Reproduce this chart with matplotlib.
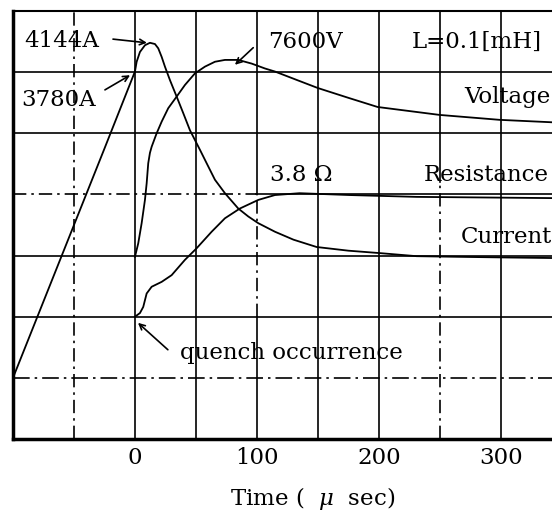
import matplotlib
matplotlib.use("Agg")
import matplotlib.pyplot as plt

# ---- data (time in microseconds, values in screen divisions) ----
current_t = [-100, -75, -50, -25, 0, 1.4, 4.1, 8.2, 12.3, 16.4, 19.1, 21.9, 24.6, 28.7, 34.2, 39.6,
             45.1, 49.2, 53.3, 58.8, 65.6, 73.8, 84.7, 92.9, 101.1, 114.8, 130, 149, 175, 201, 231, 264, 300, 342]
current_v = [1.0, 2.25, 3.5, 4.75, 6.01, 6.17, 6.33, 6.44, 6.48, 6.46, 6.39, 6.25, 6.09, 5.87, 5.60, 5.33,
             5.05, 4.89, 4.73, 4.51, 4.24, 4.02, 3.77, 3.64, 3.53, 3.39, 3.26, 3.14, 3.08, 3.04, 2.99, 2.98, 2.97, 2.96]

voltage_t = [0, 2.7, 5.5, 8.2, 9.6, 10.9, 12.3, 13.7, 17.8, 21.9, 27.3, 34.2, 41.0, 49.2, 57.4, 65.6,
             73.8, 84.7, 95.7, 106.6, 114.8, 133, 150, 175, 199, 250, 299, 342]
voltage_v = [2.98, 3.20, 3.53, 3.91, 4.18, 4.51, 4.68, 4.78, 5.0, 5.19, 5.41, 5.60, 5.79, 5.98, 6.09, 6.17,
             6.20, 6.20, 6.14, 6.06, 6.01, 5.87, 5.74, 5.58, 5.43, 5.30, 5.22, 5.18]

resist_t = [0, 4.1, 6.8, 9.6, 13.7, 21.9, 30.1, 41.0, 50.6, 62.9, 73.8, 86.1, 101.1, 114.8, 135, 176, 231, 342]
resist_v = [2.0, 2.06, 2.16, 2.38, 2.49, 2.57, 2.68, 2.93, 3.12, 3.39, 3.61, 3.77, 3.91, 3.99, 4.02, 3.99, 3.96, 3.94]

xticks = [0, 100, 200, 300]
xtick_labels = ["0", "100", "200", "300"]

plt.rcParams['font.family'] = ['DejaVu Serif']
plt.rcParams['mathtext.fontset'] = 'dejavuserif'

fig = plt.figure(figsize=(5.52, 5.15), dpi=100)
ax = fig.add_axes([13/552, 1-439/515, 1-13/552, (439-11)/515])
ax.set_xlim(-100, 342)
ax.set_ylim(0, 7)

dd = (0, (8, 3, 1.5, 3))
gkw = dict(color='black', lw=1.2, zorder=1)
# vertical grid lines
for t in [0, 50, 150, 200, 300]:
    ax.axvline(t, **gkw)
ax.axvline(-50, ls=dd, **gkw)
ax.axvline(250, ymin=0, ymax=0.6, ls=dd, **gkw)
ax.axvline(250, ymin=0.6, ymax=1, **gkw)
ax.axvline(100, ymin=0, ymax=2/7, **gkw)
ax.axvline(100, ymin=2/7, ymax=4/7, ls=dd, **gkw)
ax.axvline(100, ymin=4/7, ymax=1, **gkw)
# horizontal grid lines
for d in [2, 3, 5, 6]:
    ax.axhline(d, **gkw)
ax.axhline(1, ls=(0, (10, 3, 1.5, 3)), **gkw)
ax.axhline(4, xmin=0, xmax=0.45, ls=dd, **gkw)
ax.axhline(4, xmin=0.45, xmax=1, **gkw)

lkw = dict(color='black', lw=1.3, zorder=3, solid_joinstyle='round')
ax.plot(current_t, current_v, **lkw)
ax.plot(voltage_t, voltage_v, **lkw)
ax.plot(resist_t, resist_v, **lkw)

ax.spines['right'].set_visible(False)
ax.spines['left'].set_linewidth(2.5)
ax.spines['bottom'].set_linewidth(2.5)
ax.spines['top'].set_linewidth(1.5)

fs = 16.5
ax.set_yticks([])
ax.set_xticks(xticks)
ax.set_xticklabels(xtick_labels, fontsize=fs)
ax.tick_params(axis='x', length=0, pad=6)
ax.set_xlabel(r"Time (  $\mu$  sec)", fontsize=fs)
ax.xaxis.set_label_coords(0.555, -0.140)
ax.xaxis.label.set_va('center')

ax.text(-60, 6.51, "4144A", fontsize=fs, ha='center', va='center', zorder=5)
ax.text(-63, 5.54, "3780A", fontsize=fs, ha='center', va='center', zorder=5)
ax.text(140, 6.49, "7600V", fontsize=fs, ha='center', va='center', zorder=5)
ax.text(280, 6.49, "L=0.1[mH]", fontsize=fs, ha='center', va='center', zorder=5)
ax.text(341, 5.59, "Voltage", fontsize=fs, ha='right', va='center', zorder=5)
ax.text(339, 4.32, "Resistance", fontsize=fs, ha='right', va='center', zorder=5)
ax.text(342, 3.30, "Current", fontsize=fs, ha='right', va='center', zorder=5)
ax.text(136, 4.32, "3.8 Ω", fontsize=fs, ha='center', va='center', zorder=5)
ax.text(128, 1.41, "quench occurrence", fontsize=fs, ha='center', va='center', zorder=5)

akw = dict(arrowstyle='->', color='black', lw=1.2, shrinkA=0, shrinkB=0)
ax.annotate('', xy=(9.8, 6.48), xytext=(-18, 6.54), arrowprops=akw)
ax.annotate('', xy=(-4, 5.95), xytext=(-24.6, 5.71), arrowprops=akw)
ax.annotate('', xy=(82, 6.12), xytext=(97, 6.4), arrowprops=akw)
ax.annotate('', xy=(2.5, 1.9), xytext=(27, 1.46), arrowprops=akw)

fig.savefig("out.png", dpi=100)
